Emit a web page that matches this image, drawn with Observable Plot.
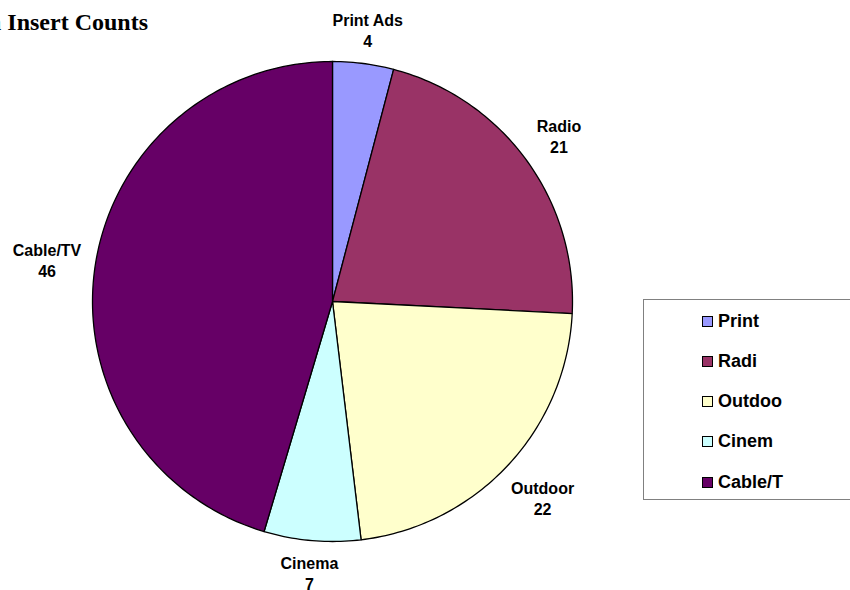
<!DOCTYPE html>
<html>
<head>
<meta charset="utf-8">
<script src="https://cdn.jsdelivr.net/npm/d3@7"></script>
<script src="https://cdn.jsdelivr.net/npm/@observablehq/plot@0.6"></script>
<style>
  html, body { margin: 0; padding: 0; background: #fff; overflow: hidden; }
  #wrap { position: relative; width: 850px; height: 590px; overflow: hidden; }
  #title { position: absolute; right: 702px; top: 9px; white-space: nowrap;
           font: bold 24px "Liberation Serif", "Times New Roman", serif; color: #000; }
  #legend { position: absolute; left: 643px; top: 299px; width: 230px; height: 201px;
            border: 1.5px solid #808080; box-sizing: border-box; }
  .item { position: absolute; left: 58px; height: 20px; display: flex; align-items: center;
          font: bold 18px "Liberation Sans", Arial, sans-serif; color: #000; }
  .sw { width: 11px; height: 11px; border: 1px solid #000; box-sizing: border-box; margin-right: 5px; }
</style>
</head>
<body>
<div id="wrap">
  <div id="title"></div>
  <div id="chart"></div>
  <div id="legend"></div>
</div>
<script>
const title = "Media Insert Counts";
const categories = ["Print Ads", "Radio", "Outdoor", "Cinema", "Cable/TV"];
// values printed on the labels
const labelValues = [4, 21, 22, 7, 46];
// slice shares as drawn
const sliceShares = [4.1, 21.7, 22.3, 6.5, 45.4];
const colors = ["#9999FF", "#993366", "#FFFFCC", "#CCFFFF", "#660066"];
const legendLabels = ["Print", "Radi", "Outdoo", "Cinem", "Cable/T"];

document.getElementById("title").textContent = title;

const total = d3.sum(sliceShares);
const R = 240; // pie radius in px (for label spacing)
const slices = [];
const labels = [];
const ctx = document.createElement("canvas").getContext("2d");
ctx.font = "bold 16px 'Liberation Sans'";
let acc = 0;
categories.forEach((c, i) => {
  const a0 = acc / total * 2 * Math.PI;
  acc += sliceShares[i];
  const a1 = acc / total * 2 * Math.PI;
  slices.push({cat: c, x: 0, y: 0});
  const n = Math.max(2, Math.ceil((a1 - a0) / (Math.PI / 180)));
  for (let k = 0; k <= n; k++) {
    const a = a0 + (a1 - a0) * k / n;
    slices.push({cat: c, x: Math.sin(a), y: Math.cos(a)});
  }
  const am = (a0 + a1) / 2;
  const ux = Math.sin(am), uy = Math.cos(am);
  const hw = Math.max(ctx.measureText(c).width, ctx.measureText(String(labelValues[i])).width) / 2;
  const hh = 18;
  const d = R + 12 + hw * Math.abs(ux) + hh * Math.abs(uy);
  labels.push({text: c + "\n" + labelValues[i], x: ux * d / R, y: uy * d / R});
});

const chart = Plot.plot({
  width: 850,
  height: 590,
  margin: 0,
  x: {domain: [-1, 1], range: [92, 572], axis: null},
  y: {domain: [-1, 1], range: [541, 61], axis: null},
  color: {domain: categories, range: colors},
  style: {background: "transparent", overflow: "visible"},
  marks: [
    Plot.line(slices, {x: "x", y: "y", z: "cat", fill: "cat", stroke: "#000",
      strokeWidth: 1.3, curve: "linear-closed", strokeLinejoin: "round"}),
    Plot.text(labels, {x: "x", y: "y", text: "text", fontSize: 16, fontWeight: "bold",
      fontFamily: "'Liberation Sans', Arial, sans-serif", fill: "#000",
      lineHeight: 1.32, lineAnchor: "middle", textAnchor: "middle"})
  ]
});
document.getElementById("chart").appendChild(chart);

const legend = document.getElementById("legend");
legendLabels.forEach((l, i) => {
  const it = document.createElement("div");
  it.className = "item";
  it.style.top = (11 + i * 40.25) + "px";
  const sw = document.createElement("span");
  sw.className = "sw";
  sw.style.background = colors[i];
  const t = document.createElement("span");
  t.textContent = l;
  it.appendChild(sw);
  it.appendChild(t);
  legend.appendChild(it);
});
</script>
</body>
</html>
